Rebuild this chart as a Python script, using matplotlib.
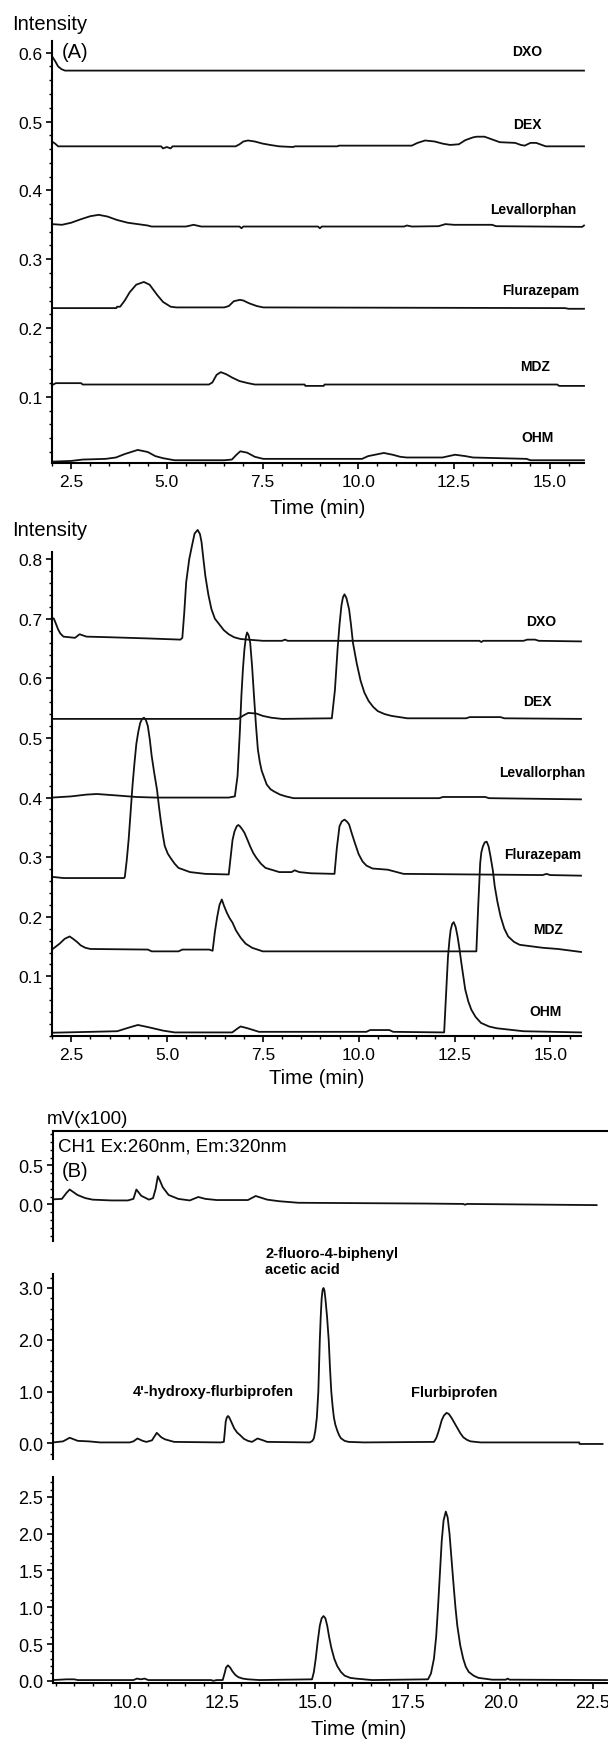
import numpy as np
import matplotlib
matplotlib.use('Agg')
import matplotlib.pyplot as plt
from matplotlib.ticker import MultipleLocator, FixedLocator, FormatStrFormatter

# ── style ─────────────────────────────────────────────────────────────────
matplotlib.rcParams.update({
    'font.family': ['Liberation Sans', 'DejaVu Sans'],
    'font.size': 12.5,
    'axes.linewidth': 1.5,
    'xtick.direction': 'out',
    'ytick.direction': 'out',
    'xtick.major.size': 4.0,
    'ytick.major.size': 4.0,
    'xtick.minor.size': 2.3,
    'ytick.minor.size': 2.3,
    'xtick.major.width': 1.2,
    'ytick.major.width': 1.2,
    'xtick.minor.width': 1.0,
    'ytick.minor.width': 1.0,
    'xtick.labelsize': 12.5,
    'ytick.labelsize': 12.5,
    'xtick.major.pad': 4,
    'ytick.major.pad': 3,
})

W, H, DPI = 608, 1740, 100
LW = 1.3
INK = '#111111'

# ── data: (time [min], intensity) ────────────────────────────────────────
NAMES = ['DXO', 'DEX', 'Levallorphan', 'Flurazepam', 'MDZ', 'OHM']

# panel A, top (blank samples)
a1_dxo = [(2.0, 0.595), (2.08, 0.588), (2.16, 0.580), (2.25, 0.576), (2.34, 0.574),
          (15.9, 0.574)]
a1_dex = [(2.0, 0.471), (2.08, 0.468), (2.16, 0.464), (4.85, 0.464), (4.9, 0.461),
          (5.0, 0.463), (5.1, 0.461), (5.15, 0.464), (6.8, 0.464), (6.9, 0.467),
          (7.0, 0.471), (7.12, 0.4725), (7.3, 0.471), (7.5, 0.468), (7.7, 0.466),
          (7.93, 0.464), (8.3, 0.463), (8.35, 0.464), (9.45, 0.464), (9.5, 0.465),
          (11.4, 0.465), (11.55, 0.469), (11.75, 0.4725), (12.0, 0.471), (12.2, 0.468),
          (12.4, 0.466), (12.63, 0.467), (12.8, 0.473), (13.0, 0.477), (13.1, 0.478),
          (13.3, 0.478), (13.5, 0.474), (13.7, 0.470), (14.1, 0.469), (14.25, 0.466),
          (14.35, 0.465), (14.5, 0.469), (14.65, 0.469), (14.8, 0.466), (14.9, 0.464),
          (15.9, 0.464)]
a1_lev = [(2.0, 0.351), (2.26, 0.350), (2.5, 0.353), (2.75, 0.358), (3.0, 0.3625),
          (3.22, 0.3645), (3.45, 0.362), (3.7, 0.357), (3.98, 0.353), (4.5, 0.349),
          (4.6, 0.3475), (5.5, 0.3475), (5.7, 0.350), (5.9, 0.3475), (6.9, 0.3475),
          (6.95, 0.345), (7.0, 0.3475), (8.95, 0.3475), (9.0, 0.345), (9.05, 0.3475),
          (11.2, 0.3475), (11.27, 0.349), (11.4, 0.3475), (12.1, 0.348), (12.28, 0.351),
          (12.5, 0.350), (13.5, 0.350), (13.6, 0.348), (15.85, 0.347), (15.9, 0.349)]
a1_flu = [(2.0, 0.229), (3.68, 0.229), (3.7, 0.231), (3.78, 0.231), (3.9, 0.240),
          (4.03, 0.252), (4.2, 0.263), (4.4, 0.267), (4.55, 0.263), (4.75, 0.248),
          (4.9, 0.238), (5.1, 0.231), (5.25, 0.230), (6.5, 0.230), (6.62, 0.232),
          (6.75, 0.239), (6.91, 0.241), (7.0, 0.240), (7.15, 0.236), (7.35, 0.232),
          (7.52, 0.230), (15.4, 0.229), (15.5, 0.228), (15.9, 0.228)]
a1_mdz = [(2.0, 0.117), (2.1, 0.120), (2.76, 0.120), (2.8, 0.118), (6.1, 0.118),
          (6.19, 0.121), (6.3, 0.132), (6.41, 0.136), (6.55, 0.133), (6.71, 0.128),
          (6.9, 0.123), (7.12, 0.120), (7.3, 0.118), (8.6, 0.118), (8.62, 0.116),
          (9.1, 0.116), (9.12, 0.118), (15.2, 0.118), (15.25, 0.116), (15.9, 0.116)]
a1_ohm = [(2.0, 0.006), (2.5, 0.007), (2.8, 0.009), (3.4, 0.010), (3.67, 0.012),
          (3.9, 0.017), (4.24, 0.023), (4.5, 0.020), (4.7, 0.014), (4.9, 0.011),
          (5.2, 0.008), (6.5, 0.008), (6.7, 0.009), (6.82, 0.016), (6.92, 0.021),
          (7.1, 0.019), (7.3, 0.013), (7.52, 0.010), (10.1, 0.010), (10.26, 0.014),
          (10.67, 0.0186), (10.9, 0.016), (11.1, 0.013), (11.27, 0.012), (12.2, 0.012),
          (12.53, 0.016), (12.8, 0.014), (13.0, 0.012), (14.4, 0.010), (14.5, 0.008),
          (15.9, 0.008)]

# panel A, bottom (spiked samples)
a2_dxo = [(2.0, 0.702), (2.05, 0.700), (2.1, 0.692), (2.16, 0.682), (2.22, 0.675),
          (2.3, 0.670), (2.6, 0.668), (2.72, 0.674), (2.9, 0.670), (3.5, 0.669),
          (4.5, 0.667), (5.35, 0.665), (5.4, 0.668), (5.45, 0.710), (5.5, 0.761),
          (5.58, 0.800), (5.65, 0.822), (5.72, 0.843), (5.8, 0.849), (5.86, 0.842),
          (5.9, 0.829), (5.95, 0.800), (6.0, 0.772), (6.08, 0.740), (6.16, 0.716),
          (6.25, 0.700), (6.36, 0.691), (6.48, 0.681), (6.61, 0.674), (6.75, 0.669),
          (6.92, 0.666), (7.5, 0.663), (8.0, 0.663), (8.08, 0.665), (8.15, 0.663),
          (13.15, 0.663), (13.2, 0.661), (13.25, 0.663), (14.3, 0.663), (14.4, 0.665),
          (14.6, 0.665), (14.7, 0.663), (15.8, 0.662)]
a2_dex = [(2.0, 0.532), (6.85, 0.532), (7.0, 0.538), (7.12, 0.542), (7.33, 0.541),
          (7.5, 0.537), (7.72, 0.534), (8.0, 0.532), (9.3, 0.533), (9.38, 0.580),
          (9.45, 0.649), (9.5, 0.690), (9.55, 0.722), (9.59, 0.736), (9.63, 0.741),
          (9.68, 0.735), (9.75, 0.716), (9.8, 0.690), (9.85, 0.660), (9.95, 0.625),
          (10.05, 0.596), (10.15, 0.576), (10.26, 0.562), (10.38, 0.552), (10.5, 0.545),
          (10.68, 0.540), (10.86, 0.537), (11.27, 0.533), (12.8, 0.533), (12.9, 0.535),
          (13.7, 0.535), (13.8, 0.533), (15.8, 0.532)]
a2_lev = [(2.0, 0.400), (2.5, 0.402), (2.9, 0.405), (3.17, 0.406), (3.6, 0.404),
          (4.2, 0.401), (4.7, 0.400), (6.61, 0.400), (6.77, 0.402), (6.84, 0.436),
          (6.9, 0.510), (6.94, 0.570), (6.98, 0.615), (7.02, 0.649), (7.06, 0.670),
          (7.09, 0.677), (7.13, 0.672), (7.17, 0.660), (7.22, 0.620), (7.27, 0.570),
          (7.32, 0.522), (7.37, 0.481), (7.42, 0.460), (7.47, 0.445), (7.6, 0.422),
          (7.7, 0.414), (7.8, 0.410), (7.95, 0.405), (8.1, 0.402), (8.3, 0.399),
          (12.1, 0.399), (12.2, 0.401), (13.3, 0.401), (13.4, 0.399), (15.8, 0.397)]
a2_flu = [(2.0, 0.267), (2.3, 0.265), (3.88, 0.265), (3.9, 0.267), (3.95, 0.295),
          (4.0, 0.330), (4.05, 0.375), (4.1, 0.420), (4.15, 0.457), (4.2, 0.490),
          (4.25, 0.510), (4.3, 0.525), (4.35, 0.532), (4.4, 0.534), (4.45, 0.530),
          (4.5, 0.520), (4.55, 0.498), (4.6, 0.470), (4.67, 0.440), (4.74, 0.413),
          (4.79, 0.385), (4.84, 0.360), (4.89, 0.338), (4.94, 0.319), (5.02, 0.306),
          (5.1, 0.298), (5.2, 0.289), (5.3, 0.282), (5.6, 0.275), (6.0, 0.272),
          (6.61, 0.271), (6.66, 0.300), (6.71, 0.329), (6.76, 0.343), (6.82, 0.352),
          (6.86, 0.354), (6.9, 0.352), (6.96, 0.347), (7.02, 0.341), (7.1, 0.329),
          (7.17, 0.318), (7.25, 0.307), (7.33, 0.299), (7.45, 0.289), (7.57, 0.282),
          (7.93, 0.275), (8.25, 0.275), (8.33, 0.278), (8.45, 0.275), (8.75, 0.273),
          (9.37, 0.272), (9.43, 0.315), (9.5, 0.352), (9.56, 0.360), (9.63, 0.363),
          (9.69, 0.360), (9.75, 0.355), (9.82, 0.340), (9.9, 0.324), (10.0, 0.305),
          (10.1, 0.293), (10.2, 0.286), (10.36, 0.281), (10.76, 0.279), (11.17, 0.272),
          (14.8, 0.270), (14.9, 0.272), (15.0, 0.270), (15.8, 0.269)]
a2_mdz = [(2.0, 0.145), (2.1, 0.150), (2.2, 0.155), (2.33, 0.163), (2.46, 0.167),
          (2.55, 0.163), (2.65, 0.158), (2.75, 0.152), (2.87, 0.148), (3.0, 0.146),
          (4.5, 0.145), (4.6, 0.142), (5.3, 0.142), (5.4, 0.145), (6.1, 0.145),
          (6.19, 0.143), (6.25, 0.175), (6.31, 0.200), (6.37, 0.220), (6.43, 0.229),
          (6.49, 0.218), (6.56, 0.207), (6.63, 0.198), (6.71, 0.190), (6.8, 0.177),
          (6.92, 0.165), (7.05, 0.155), (7.22, 0.148), (7.5, 0.142), (13.07, 0.142),
          (13.12, 0.220), (13.17, 0.290), (13.2, 0.308), (13.24, 0.318), (13.29, 0.325),
          (13.34, 0.326), (13.39, 0.318), (13.44, 0.301), (13.5, 0.278), (13.55, 0.251),
          (13.62, 0.225), (13.7, 0.201), (13.8, 0.180), (13.9, 0.167), (14.05, 0.158),
          (14.2, 0.153), (14.8, 0.148), (15.2, 0.146), (15.8, 0.141)]
a2_ohm = [(2.0, 0.0055), (3.7, 0.008), (4.0, 0.014), (4.24, 0.0185), (4.5, 0.015),
          (4.9, 0.009), (5.2, 0.006), (6.7, 0.006), (6.85, 0.013), (6.92, 0.016),
          (7.1, 0.013), (7.4, 0.007), (10.2, 0.007), (10.3, 0.010), (10.8, 0.010),
          (10.9, 0.007), (12.23, 0.006), (12.28, 0.070), (12.33, 0.133), (12.37, 0.162),
          (12.4, 0.178), (12.44, 0.188), (12.48, 0.191), (12.53, 0.183), (12.58, 0.167),
          (12.63, 0.146), (12.68, 0.122), (12.73, 0.100), (12.78, 0.078), (12.86, 0.058),
          (12.94, 0.044), (13.05, 0.032), (13.19, 0.022), (13.4, 0.016), (13.6, 0.013),
          (14.3, 0.008), (15.8, 0.006)]

# panel B (mV x100)
b1 = [(7.93, 0.064), (8.17, 0.07), (8.3, 0.15), (8.38, 0.19), (8.5, 0.15),
      (8.59, 0.12), (8.8, 0.08), (9.0, 0.06), (9.5, 0.05), (9.95, 0.05),
      (10.1, 0.07), (10.18, 0.19), (10.31, 0.11), (10.52, 0.06), (10.63, 0.08),
      (10.7, 0.2), (10.76, 0.36), (10.82, 0.3), (10.89, 0.22), (11.05, 0.12),
      (11.31, 0.07), (11.62, 0.05), (11.85, 0.094), (12.04, 0.07), (12.35, 0.055),
      (13.19, 0.055), (13.4, 0.107), (13.71, 0.06), (14.03, 0.04), (14.55, 0.02),
      (18.0, 0.01), (19.0, 0.005), (19.05, -0.005), (19.1, 0.005), (22.6, -0.01)]
b2 = [(7.93, 0.02), (8.2, 0.04), (8.38, 0.11), (8.6, 0.05), (8.9, 0.04),
      (9.2, 0.02), (10.0, 0.02), (10.1, 0.04), (10.21, 0.096), (10.35, 0.05),
      (10.45, 0.03), (10.6, 0.06), (10.73, 0.205), (10.85, 0.12), (10.95, 0.08),
      (11.2, 0.03), (12.45, 0.02), (12.54, 0.03), (12.57, 0.25), (12.59, 0.42),
      (12.62, 0.50), (12.65, 0.53), (12.68, 0.51), (12.72, 0.45), (12.77, 0.37),
      (12.82, 0.29), (12.9, 0.21), (12.98, 0.16), (13.08, 0.09), (13.19, 0.05),
      (13.3, 0.03), (13.45, 0.096), (13.6, 0.06), (13.71, 0.03), (14.86, 0.02),
      (14.93, 0.05), (14.97, 0.1), (15.01, 0.25), (15.05, 0.5), (15.07, 0.75),
      (15.09, 1.0), (15.11, 1.5), (15.13, 2.0), (15.155, 2.45), (15.18, 2.8),
      (15.205, 2.96), (15.23, 3.0), (15.255, 2.95), (15.28, 2.8), (15.325, 2.45),
      (15.37, 2.0), (15.405, 1.45), (15.44, 1.0), (15.475, 0.72), (15.51, 0.5),
      (15.55, 0.36), (15.6, 0.25), (15.65, 0.16), (15.7, 0.1), (15.8, 0.05),
      (15.91, 0.03), (16.33, 0.02), (18.21, 0.03), (18.27, 0.1), (18.32, 0.2),
      (18.37, 0.32), (18.42, 0.45), (18.48, 0.54), (18.55, 0.59), (18.61, 0.57),
      (18.68, 0.5), (18.76, 0.4), (18.84, 0.3), (18.92, 0.2), (19.0, 0.12),
      (19.1, 0.07), (19.2, 0.04), (19.47, 0.02), (22.13, 0.02), (22.14, -0.01),
      (22.76, -0.01)]
b3 = [(7.93, 0.01), (8.3, 0.02), (8.5, 0.02), (8.6, 0.01), (10.1, 0.01),
      (10.2, 0.03), (10.3, 0.02), (10.4, 0.03), (10.5, 0.01), (12.2, 0.01),
      (12.25, 0.0), (12.35, 0.01), (12.51, 0.01), (12.56, 0.1), (12.6, 0.18),
      (12.65, 0.21), (12.71, 0.18), (12.77, 0.13), (12.85, 0.08), (12.93, 0.05),
      (13.05, 0.03), (13.19, 0.02), (13.5, 0.01), (14.92, 0.02), (14.97, 0.12),
      (15.02, 0.3), (15.07, 0.52), (15.13, 0.75), (15.18, 0.85), (15.23, 0.88),
      (15.28, 0.85), (15.33, 0.75), (15.38, 0.6), (15.44, 0.45), (15.52, 0.3),
      (15.6, 0.2), (15.7, 0.12), (15.8, 0.07), (15.95, 0.04), (16.1, 0.03),
      (16.54, 0.01), (18.05, 0.02), (18.13, 0.1), (18.21, 0.3), (18.27, 0.6),
      (18.32, 1.0), (18.37, 1.45), (18.42, 1.9), (18.47, 2.18), (18.53, 2.30),
      (18.58, 2.22), (18.63, 2.0), (18.68, 1.68), (18.74, 1.3), (18.79, 1.0),
      (18.84, 0.75), (18.92, 0.48), (19.0, 0.3), (19.07, 0.19), (19.15, 0.12),
      (19.28, 0.07), (19.41, 0.04), (19.78, 0.015), (20.15, 0.015), (20.2, 0.03),
      (20.25, 0.015), (22.88, 0.01)]

B_PEAKS = ['2-fluoro-4-biphenyl\nacetic acid', "4'-hydroxy-flurbiprofen", 'Flurbiprofen']


# ── helpers ───────────────────────────────────────────────────────────────
def add_ax(fig, x0, y0, x1, y1):
    """Axes from a pixel box (top-left origin)."""
    return fig.add_axes([x0 / W, 1 - y1 / H, (x1 - x0) / W, (y1 - y0) / H])


def ftext(fig, x, y, s, **kw):
    fig.text(x / W, 1 - y / H, s, **kw)


def trace(ax, pts):
    a = np.asarray(pts)
    ax.plot(a[:, 0], a[:, 1], color=INK, lw=LW, clip_on=False,
            solid_joinstyle='round')


def style_a(ax, ymajors, ylim, xlim):
    for s in ('top', 'right'):
        ax.spines[s].set_visible(False)
    ax.set_xlim(*xlim)
    ax.set_ylim(*ylim)
    ax.xaxis.set_major_locator(MultipleLocator(2.5))
    ax.xaxis.set_minor_locator(MultipleLocator(0.5))
    ax.xaxis.set_major_formatter(FormatStrFormatter('%.1f'))
    ax.yaxis.set_major_locator(FixedLocator(ymajors))
    ax.yaxis.set_minor_locator(MultipleLocator(0.02))
    ax.yaxis.set_major_formatter(FormatStrFormatter('%.1f'))
    ax.patch.set_visible(False)


fig = plt.figure(figsize=(W / DPI, H / DPI), dpi=DPI)
fig.patch.set_facecolor('white')

lab_kw = dict(fontsize=10, fontweight='bold', ha='center', va='center')

# ── panel A top ───────────────────────────────────────────────────────────
ax1 = add_ax(fig, 52, 42, 584, 464)
for pts in (a1_dxo, a1_dex, a1_lev, a1_flu, a1_mdz, a1_ohm):
    trace(ax1, pts)
style_a(ax1, [0.1, 0.2, 0.3, 0.4, 0.5, 0.6], (0.004, 0.617), (2.0, 15.9))
for name, (x, y) in zip(NAMES, [(527, 52), (527, 125), (533, 210),
                                (541, 291), (535, 367), (538, 438)]):
    ftext(fig, x, y, name, **lab_kw)
ftext(fig, 12, 24, 'Intensity', fontsize=14.5, ha='left', va='center')
ftext(fig, 62, 53, '(A)', fontsize=14.5, ha='left', va='center')
ftext(fig, 318, 509, 'Time (min)', fontsize=14.5, ha='center', va='center')

# ── panel A bottom ────────────────────────────────────────────────────────
ax2 = add_ax(fig, 52, 553, 581, 1037)
for pts in (a2_dxo, a2_dex, a2_lev, a2_flu, a2_mdz, a2_ohm):
    trace(ax2, pts)
style_a(ax2, [0.1, 0.2, 0.3, 0.4, 0.5, 0.6, 0.7, 0.8], (0.0, 0.812), (2.0, 15.8))
for name, (x, y) in zip(NAMES, [(541, 622), (537, 702), (542, 773),
                                (543, 855), (548, 930), (546, 1012)]):
    ftext(fig, x, y, name, **lab_kw)
ftext(fig, 12, 530, 'Intensity', fontsize=14.5, ha='left', va='center')
ftext(fig, 317, 1078, 'Time (min)', fontsize=14.5, ha='center', va='center')

# ── panel B ───────────────────────────────────────────────────────────────
BX = (7.93, 22.88)

bx1 = add_ax(fig, 53, 1132, 607, 1242)
trace(bx1, b1)
bx1.set_xlim(*BX)
bx1.set_ylim(-0.47, 0.94)
for s in ('bottom', 'right'):
    bx1.spines[s].set_visible(False)
bx1.set_xticks([])
bx1.yaxis.set_major_locator(FixedLocator([0.0, 0.5]))
bx1.yaxis.set_minor_locator(MultipleLocator(0.1))
bx1.yaxis.set_major_formatter(FormatStrFormatter('%.1f'))

bx2 = add_ax(fig, 53, 1275, 607, 1460)
trace(bx2, b2)
bx2.set_xlim(*BX)
bx2.set_ylim(-0.3, 3.27)
for s in ('bottom', 'right', 'top'):
    bx2.spines[s].set_visible(False)
bx2.set_xticks([])
bx2.yaxis.set_major_locator(FixedLocator([0.0, 1.0, 2.0, 3.0]))
bx2.yaxis.set_minor_locator(MultipleLocator(0.2))
bx2.yaxis.set_major_formatter(FormatStrFormatter('%.1f'))

bx3 = add_ax(fig, 53, 1478, 607, 1684)
trace(bx3, b3)
bx3.set_xlim(*BX)
bx3.set_ylim(-0.03, 2.77)
for s in ('right', 'top'):
    bx3.spines[s].set_visible(False)
bx3.xaxis.set_major_locator(MultipleLocator(2.5))
bx3.xaxis.set_minor_locator(MultipleLocator(0.5))
bx3.xaxis.set_major_formatter(FormatStrFormatter('%.1f'))
bx3.yaxis.set_major_locator(MultipleLocator(0.5))
bx3.yaxis.set_minor_locator(MultipleLocator(0.1))
bx3.yaxis.set_major_formatter(FormatStrFormatter('%.1f'))

for a in (bx1, bx2, bx3):
    a.patch.set_visible(False)
    a.tick_params(labelsize=13)

ftext(fig, 47, 1120, 'mV(x100)', fontsize=13.5, ha='left', va='center')
ftext(fig, 58, 1147, 'CH1 Ex:260nm, Em:320nm', fontsize=13.5, ha='left', va='center')
ftext(fig, 62, 1172, '(B)', fontsize=14.5, ha='left', va='center')
pk_kw = dict(fontsize=10.5, fontweight='bold', va='center')
ftext(fig, 265, 1262, B_PEAKS[0], ha='left', linespacing=1.2, **pk_kw)
ftext(fig, 213, 1392, B_PEAKS[1], ha='center', **pk_kw)
ftext(fig, 454, 1393, B_PEAKS[2], ha='center', **pk_kw)
ftext(fig, 359, 1730, 'Time (min)', fontsize=14.5, ha='center', va='center')

fig.savefig('out.png', dpi=DPI, facecolor='white')
